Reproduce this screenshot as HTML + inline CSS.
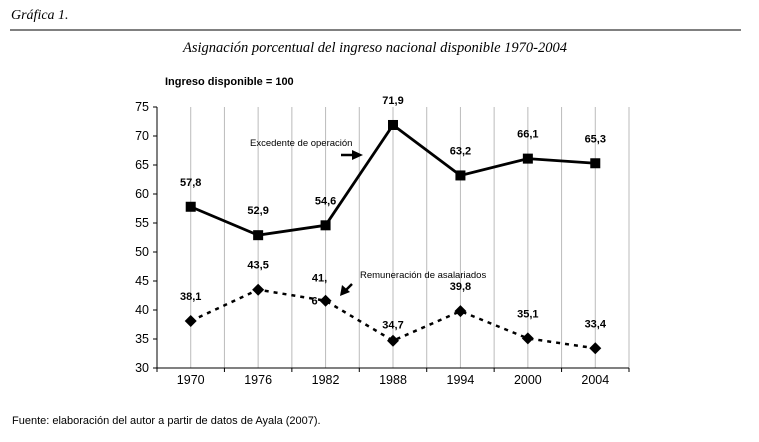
<!DOCTYPE html>
<html><head><meta charset="utf-8"><style>
body{margin:0;background:#fff;width:759px;height:437px;overflow:hidden;font-family:"Liberation Sans",sans-serif}
</style></head><body>
<svg width="759" height="437">
<text x="11" y="19" font-family="Liberation Serif" font-style="italic" font-size="14">Gráfica 1.</text>
<line x1="10" y1="30" x2="741" y2="30" stroke="#000" stroke-width="1"/>
<text x="375" y="52" text-anchor="middle" font-family="Liberation Serif" font-style="italic" font-size="14.5">Asignación porcentual del ingreso nacional disponible 1970-2004</text>
<text x="165" y="85" font-weight="bold" font-size="11">Ingreso disponible = 100</text>
<g id="grid"></g><g id="axes"></g><g id="series"></g>
<text x="250" y="146" font-size="9.5">Excedente de operación</text>
<line x1="341" y1="155" x2="355" y2="155" stroke="#000" stroke-width="2.5"/>
<polygon points="352,150 363,155 352,160" fill="#000"/>
<text x="360" y="278" font-size="9.5">Remuneración de asalariados</text>
<line x1="352" y1="284" x2="345" y2="291" stroke="#000" stroke-width="2.5"/>
<polygon points="340,296 342,285 350,292" fill="#000"/>
<text x="12" y="424" font-size="11">Fuente: elaboración del autor a partir de datos de Ayala (2007).</text>
</svg>
<script>
const years=["1970","1976","1982","1988","1994","2000","2004"];
const excedente=[57.8,52.9,54.6,71.9,63.2,66.1,65.3];
const remuneracion=[38.1,43.5,41.6,34.7,39.8,35.1,33.4];
const excLabels=["57,8","52,9","54,6","71,9","63,2","66,1","65,3"];
const remLabels=["38,1","43,5","41,\n6","34,7","39,8","35,1","33,4"];
const yTicks=[30,35,40,45,50,55,60,65,70,75];
const NS="http://www.w3.org/2000/svg";
const L=157,R=629,T=107,B=368;
const step=(R-L)/years.length;
const x=i=>L+step*(i+0.5);
const y=v=>B-(v-30)/45*(B-T);
function mk(tag,attrs,parent,txt){const e=document.createElementNS(NS,tag);for(const k in attrs)e.setAttribute(k,attrs[k]);if(txt!==undefined)e.textContent=txt;document.getElementById(parent).appendChild(e);return e;}
for(let k=1;k<=years.length*2;k++){const gx=L+k*step/2;
const g=mk('line',{x1:gx,y1:T,x2:gx,y2:B,stroke:'#bbb','stroke-width':1},'grid');

}
let a=mk('line',{x1:L,y1:T,x2:L,y2:B,stroke:'#000'},'axes');


a=mk('line',{x1:L,y1:B,x2:R,y2:B,stroke:'#000'},'axes');


yTicks.forEach(v=>{const t=mk('line',{x1:L-4,y1:y(v),x2:L,y2:y(v),stroke:'#000'},'axes');


const l=mk('text',{x:L-8,y:y(v)+4,'text-anchor':'end','font-size':12.5},'axes',v);

});
for(let k=0;k<=years.length;k++){const t=mk('line',{x1:L+k*step,y1:B,x2:L+k*step,y2:B+4,stroke:'#000'},'axes');

}
years.forEach((yr,i)=>{const l=mk('text',{x:x(i),y:B+16,'text-anchor':'middle','font-size':12.5},'axes',yr);

});
let p=mk('polyline',{points:excedente.map((v,i)=>x(i)+','+y(v)).join(' '),fill:'none',stroke:'#000','stroke-width':2.8},'series');


p=mk('polyline',{points:remuneracion.map((v,i)=>x(i)+','+y(v)).join(' '),fill:'none',stroke:'#000','stroke-width':2.5,'stroke-dasharray':'4,5'},'series');


excedente.forEach((v,i)=>{const m=mk('rect',{x:x(i)-5,y:y(v)-5,width:10,height:10,fill:'#000'},'series');


const l=mk('text',{x:x(i),y:y(v)-21,'text-anchor':'middle','font-size':11,'font-weight':'bold'},'series',excLabels[i]);

});
remuneracion.forEach((v,i)=>{const cx=x(i),cy=y(v);
const m=mk('polygon',{points:`${cx},${cy-6} ${cx+6},${cy} ${cx},${cy+6} ${cx-6},${cy}`,fill:'#000'},'series');


const parts=remLabels[i].split('\n');
parts.forEach((s,j)=>{const l=mk('text',{x:cx-(parts.length>1?(j?11:6):0),y:cy-(parts.length>1?19:i==3?12:21)+j*23,'text-anchor':'middle','font-size':11,'font-weight':'bold'},'series',s);

});});
</script>
</body></html>
